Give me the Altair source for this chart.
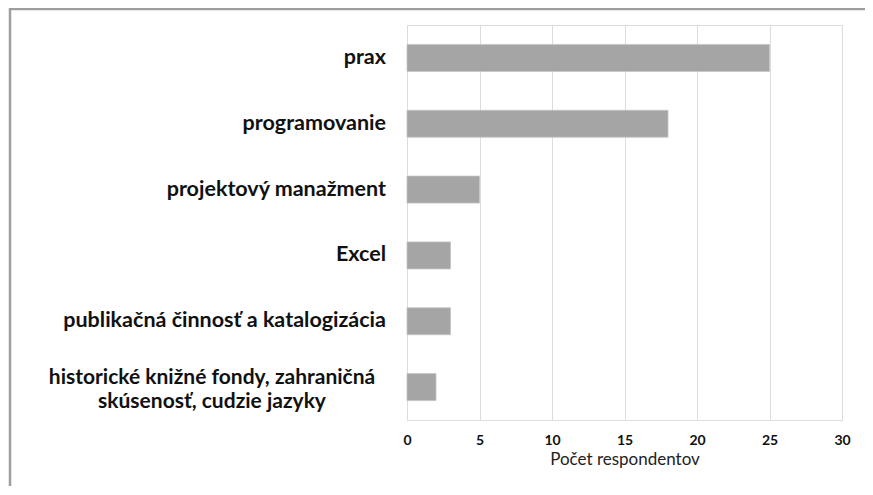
import altair as alt
import pandas as pd

categories = [
    "prax",
    "programovanie",
    "projektový manažment",
    "Excel",
    "publikačná činnosť a katalogizácia",
    "historické knižné fondy, zahraničná skúsenosť, cudzie jazyky",
]
values = [25, 18, 5, 3, 3, 2]
label_lines = [
    ["prax"],
    ["programovanie"],
    ["projektový manažment"],
    ["Excel"],
    ["publikačná činnosť a katalogizácia"],
    ["historické knižné fondy, zahraničná", "skúsenosť, cudzie jazyky"],
]
x_ticks = [0, 5, 10, 15, 20, 25, 30]

df = pd.DataFrame({
    "category": categories,
    "value": values,
    "label": ["\n".join(l) for l in label_lines],
    "multi": [len(l) > 1 for l in label_lines],
})

FONT = "Lato"
W, H = 435, 395
SVG_W, SVG_H = 857, 478
PAD = {"left": 399, "top": 17, "right": SVG_W - 399 - W, "bottom": SVG_H - 17 - H}

y_enc = alt.Y("category:N", sort=categories, axis=None,
              scale=alt.Scale(paddingInner=0.59, paddingOuter=0.295))

base = alt.Chart(df)

bars = base.mark_bar(color="#a5a5a5", stroke="#c4c4c4", strokeWidth=0.8).encode(
    x=alt.X("value:Q",
            scale=alt.Scale(domain=[0, 30], nice=False),
            axis=alt.Axis(values=x_ticks, title="Počet respondentov",
                          grid=True, gridColor="#dcdcdc", gridWidth=1,
                          domain=False, ticks=False, labelFlush=False,
                          labelFont=FONT, labelFontWeight="bold", labelFontSize=14,
                          labelColor="#111", labelPadding=13,
                          titleFont=FONT, titleFontWeight="normal", titleFontSize=17,
                          titleColor="#222", titlePadding=4)),
    y=y_enc,
)

single = base.transform_filter("!datum.multi").mark_text(
    align="right", baseline="middle", font=FONT, fontWeight="bold",
    fontSize=21.5, color="#111"
).encode(y=y_enc, x=alt.value(-21), text="label:N")

multi = base.transform_filter("datum.multi").mark_text(
    align="center", baseline="middle", font=FONT, fontWeight="bold",
    fontSize=21, color="#111", lineBreak="\n", lineHeight=24, dy=-9
).encode(y=y_enc, x=alt.value(-195), text="label:N")

frame = alt.Chart(alt.Data(values=[{"f": 1}])).mark_rect(
    fill="transparent", stroke="#9e9e9e", strokeWidth=2.5
).encode(x=alt.value(-397), y=alt.value(-16), x2=alt.value(W + 200), y2=alt.value(H + 200))

chart = alt.layer(frame, bars, single, multi).properties(
    width=W, height=H,
    autosize=alt.AutoSizeParams(type="none"),
    padding=PAD,
).configure_view(stroke=None).configure(background="white")

chart.save("out.html", embed_options={"renderer": "svg", "actions": False})
